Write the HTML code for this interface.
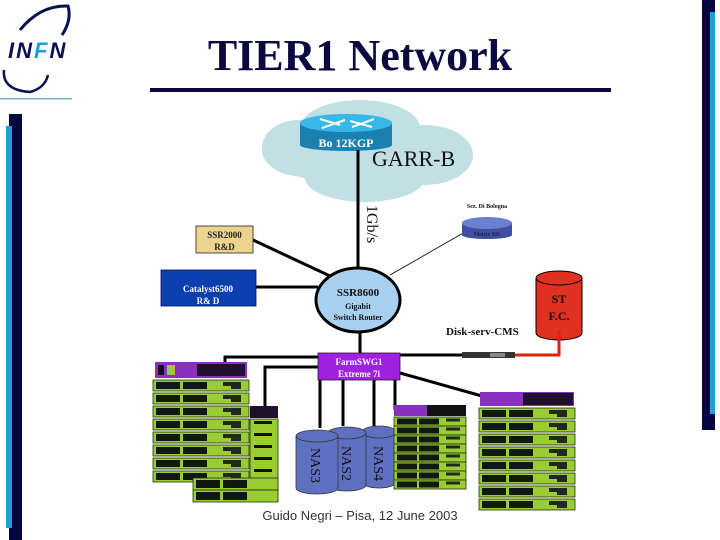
<!DOCTYPE html>
<html><head><meta charset="utf-8"><style>
html,body{margin:0;padding:0;background:#fff;width:720px;height:540px;overflow:hidden}
svg{display:block}
</style></head><body>
<svg width="720" height="540" viewBox="0 0 720 540" xmlns="http://www.w3.org/2000/svg" font-family="Liberation Serif, serif">
<defs>
<g id="slat">
<rect x="0" y="0" width="96" height="11" fill="#9acd32" stroke="#203010" stroke-width="0.8"/>
<rect x="3" y="2" width="24" height="7" fill="#101810"/>
<rect x="30" y="2" width="24" height="7" fill="#101810"/>
<rect x="70" y="2" width="18" height="4" fill="#202820"/>
<rect x="78" y="6" width="10" height="3" fill="#202820"/>
</g>
<g id="slatS">
<rect x="0" y="0" width="72" height="9" fill="#9acd32" stroke="#203010" stroke-width="0.8"/>
<rect x="3" y="1.5" width="20" height="6" fill="#101810"/>
<rect x="25" y="1.5" width="20" height="6" fill="#101810"/>
<rect x="52" y="1.5" width="14" height="3" fill="#202820"/>
</g>
</defs>

<rect x="9" y="114" width="13" height="426" fill="#05063f"/>
<rect x="6" y="126" width="6" height="402" fill="#1aa0dc"/>
<rect x="702" y="0" width="13" height="430" fill="#05063f"/>
<rect x="710" y="12" width="5" height="402" fill="#1aa0dc"/>

<path d="M20 30 Q40 5 68 6 Q72 20 62 35" fill="none" stroke="#0a1050" stroke-width="3"/>
<path d="M4 70 Q2 90 30 92 Q45 88 48 75" fill="none" stroke="#0a1050" stroke-width="2.5"/>
<text x="8" y="58" font-family="Liberation Sans, sans-serif" font-weight="bold" font-style="italic" font-size="22" fill="#0a1050" letter-spacing="2">IN<tspan fill="#1aa0dc">F</tspan>N</text>
<rect x="0" y="98" width="72" height="1.5" fill="#6ab0d8"/>

<text x="360" y="70" text-anchor="middle" font-size="44" font-weight="bold" fill="#0a0a40">TIER1 Network</text>
<rect x="150" y="88" width="461" height="4" fill="#0a0a40"/>

<g fill="#c2e0e4">
<ellipse cx="360" cy="152" rx="98" ry="32"/>
<ellipse cx="298" cy="148" rx="36" ry="28"/>
<ellipse cx="425" cy="155" rx="48" ry="30"/>
<ellipse cx="360" cy="128" rx="60" ry="28"/>
<ellipse cx="365" cy="178" rx="60" ry="24"/>
</g>
<rect x="300" y="123" width="92" height="22" fill="#1a80b0"/>
<ellipse cx="346" cy="145" rx="46" ry="6" fill="#1a80b0"/>
<ellipse cx="346" cy="123" rx="46" ry="9" fill="#38b8e8"/>
<path d="M320 119 L340 125 M350 121 L372 127 M322 128 L345 120 M352 127 L374 119" stroke="#fff" stroke-width="2"/>
<text x="346" y="147" text-anchor="middle" font-size="12" fill="#fff" font-weight="bold">Bo 12KGP</text>
<text x="372" y="166" font-size="22" fill="#111">GARR-B</text>

<line x1="358" y1="150" x2="358" y2="268" stroke="#000" stroke-width="3"/>
<text transform="translate(367,205) rotate(90)" font-size="16" fill="#111">1Gb/s</text>
<line x1="253" y1="240" x2="330" y2="276" stroke="#000" stroke-width="3"/>
<line x1="256" y1="287" x2="318" y2="287" stroke="#000" stroke-width="3"/>
<line x1="390" y1="275" x2="465" y2="232" stroke="#000" stroke-width="0.8"/>
<line x1="360" y1="330" x2="360" y2="355" stroke="#000" stroke-width="3"/>

<rect x="196" y="226" width="57" height="27" fill="#ecd48e" stroke="#222" stroke-width="0.8"/>
<text x="224.5" y="238" text-anchor="middle" font-size="9" font-weight="bold" fill="#222">SSR2000</text>
<text x="224.5" y="250" text-anchor="middle" font-size="9" font-weight="bold" fill="#222">R&amp;D</text>
<rect x="161" y="270" width="95" height="36" fill="#0b3fb0" stroke="#001060" stroke-width="0.8"/>
<text x="208" y="292" text-anchor="middle" font-size="9" font-weight="bold" fill="#fff">Catalyst6500</text>
<text x="208" y="304" text-anchor="middle" font-size="9" font-weight="bold" fill="#fff">R&amp; D</text>
<ellipse cx="358" cy="300" rx="42" ry="32" fill="#a8d0f0" stroke="#000" stroke-width="3"/>
<text x="358" y="296" text-anchor="middle" font-size="11" font-weight="bold" fill="#111">SSR8600</text>
<text x="358" y="309" text-anchor="middle" font-size="8" font-weight="bold" fill="#111">Gigabit</text>
<text x="358" y="320" text-anchor="middle" font-size="8" font-weight="bold" fill="#111">Switch Router</text>

<text x="487" y="208" text-anchor="middle" font-size="6" font-weight="bold" fill="#111">Sez. Di Bologna</text>
<rect x="462" y="223" width="50" height="12" fill="#4050a0"/>
<ellipse cx="487" cy="235" rx="25" ry="4" fill="#4050a0"/>
<ellipse cx="487" cy="223" rx="25" ry="6" fill="#6a80d0"/>
<text x="487" y="236" text-anchor="middle" font-size="6" fill="#111">Matrix M6</text>

<ellipse cx="559" cy="333" rx="23" ry="7" fill="#e03020" stroke="#000" stroke-width="1"/>
<rect x="536" y="278" width="46" height="55" fill="#e03020"/>
<line x1="536" y1="278" x2="536" y2="333" stroke="#000"/>
<line x1="582" y1="278" x2="582" y2="333" stroke="#000"/>
<ellipse cx="559" cy="278" rx="23" ry="7" fill="#e03020" stroke="#000" stroke-width="1"/>
<text x="559" y="303" text-anchor="middle" font-size="12" font-weight="bold" fill="#111">ST</text>
<text x="559" y="320" text-anchor="middle" font-size="12" font-weight="bold" fill="#111">F.C.</text>
<text x="446" y="335" font-size="11" font-weight="bold" fill="#111">Disk-serv-CMS</text>
<polyline points="514,355 559,355 559,330" fill="none" stroke="#e02010" stroke-width="3"/>

<line x1="400" y1="355" x2="462" y2="355" stroke="#000" stroke-width="3"/>
<rect x="462" y="352" width="53" height="6" fill="#333"/>
<rect x="490" y="353" width="15" height="4" fill="#888"/>
<polyline points="318,357 225,357 225,368" fill="none" stroke="#000" stroke-width="3"/>
<polyline points="318,367 265,367 265,408" fill="none" stroke="#000" stroke-width="3"/>
<line x1="400" y1="373" x2="482" y2="396" stroke="#000" stroke-width="3"/>
<g stroke="#000" stroke-width="3">
<line x1="320" y1="378" x2="320" y2="428"/>
<line x1="343" y1="378" x2="343" y2="426"/>
<line x1="374" y1="378" x2="374" y2="426"/>
<line x1="395" y1="378" x2="395" y2="410"/>
</g>
<rect x="318" y="353" width="82" height="27" fill="#a020e0" stroke="#301040" stroke-width="0.8"/>
<text x="359" y="365" text-anchor="middle" font-size="9" font-weight="bold" fill="#fff">FarmSWG1</text>
<text x="359" y="377" text-anchor="middle" font-size="9" font-weight="bold" fill="#fff">Extreme 7i</text>

<rect x="155" y="362" width="92" height="16" fill="#8a30c0"/>
<rect x="158" y="365" width="6" height="10" fill="#111"/><rect x="167" y="365" width="8" height="10" fill="#9acd32"/>
<rect x="197" y="364" width="48" height="12" fill="#201030"/>
<rect x="250" y="406" width="28" height="12" fill="#201030"/>
<rect x="250" y="419" width="28" height="72" fill="#9acd32" stroke="#203010" stroke-width="0.8"/>
<g fill="#111"><rect x="254" y="421" width="18" height="3"/><rect x="254" y="433" width="18" height="3"/><rect x="254" y="445" width="18" height="3"/><rect x="254" y="457" width="18" height="3"/><rect x="254" y="469" width="18" height="3"/><rect x="254" y="481" width="18" height="3"/></g>
<use href="#slat" x="153" y="380"/><use href="#slat" x="153" y="393"/><use href="#slat" x="153" y="406"/><use href="#slat" x="153" y="419"/>
<use href="#slat" x="153" y="432"/><use href="#slat" x="153" y="445"/><use href="#slat" x="153" y="458"/><use href="#slat" x="153" y="471"/>
<rect x="193" y="478" width="85" height="12" fill="#9acd32" stroke="#203010" stroke-width="0.8"/>
<rect x="196" y="480" width="24" height="8" fill="#101810"/><rect x="223" y="480" width="24" height="8" fill="#101810"/>
<rect x="193" y="490" width="85" height="12" fill="#9acd32" stroke="#203010" stroke-width="0.8"/>
<rect x="196" y="492" width="24" height="8" fill="#101810"/><rect x="223" y="492" width="24" height="8" fill="#101810"/>

<g stroke="#333" stroke-width="0.8" fill="#6070c0">
<path d="M362 432 v50 a17 6 0 0 0 34 0 v-50 z"/><ellipse cx="379" cy="432" rx="17" ry="6"/>
<path d="M328 433 v52 a19 6 0 0 0 38 0 v-52 z"/><ellipse cx="347" cy="433" rx="19" ry="6"/>
<path d="M296 436 v52 a21 6 0 0 0 42 0 v-52 z"/><ellipse cx="317" cy="436" rx="21" ry="6"/>
</g>
<text transform="translate(311,448) rotate(90)" font-size="14" fill="#111">NAS3</text>
<text transform="translate(342,446) rotate(90)" font-size="14" fill="#111">NAS2</text>
<text transform="translate(374,446) rotate(90)" font-size="14" fill="#111">NAS4</text>

<rect x="394" y="405" width="72" height="11" fill="#8a30c0"/>
<rect x="427" y="405" width="39" height="11" fill="#111"/>
<use href="#slatS" x="394" y="417"/><use href="#slatS" x="394" y="426"/><use href="#slatS" x="394" y="435"/><use href="#slatS" x="394" y="444"/>
<use href="#slatS" x="394" y="453"/><use href="#slatS" x="394" y="462"/><use href="#slatS" x="394" y="471"/><use href="#slatS" x="394" y="480"/>

<rect x="480" y="392" width="94" height="14" fill="#8a30c0"/>
<rect x="523" y="393" width="50" height="12" fill="#201030"/>
<use href="#slat" x="479" y="408"/><use href="#slat" x="479" y="421"/><use href="#slat" x="479" y="434"/><use href="#slat" x="479" y="447"/>
<use href="#slat" x="479" y="460"/><use href="#slat" x="479" y="473"/><use href="#slat" x="479" y="486"/><use href="#slat" x="479" y="499"/>

<text x="360" y="520" text-anchor="middle" font-family="Liberation Sans, sans-serif" font-size="13" fill="#333">Guido Negri – Pisa, 12 June 2003</text>
</svg>
</body></html>
